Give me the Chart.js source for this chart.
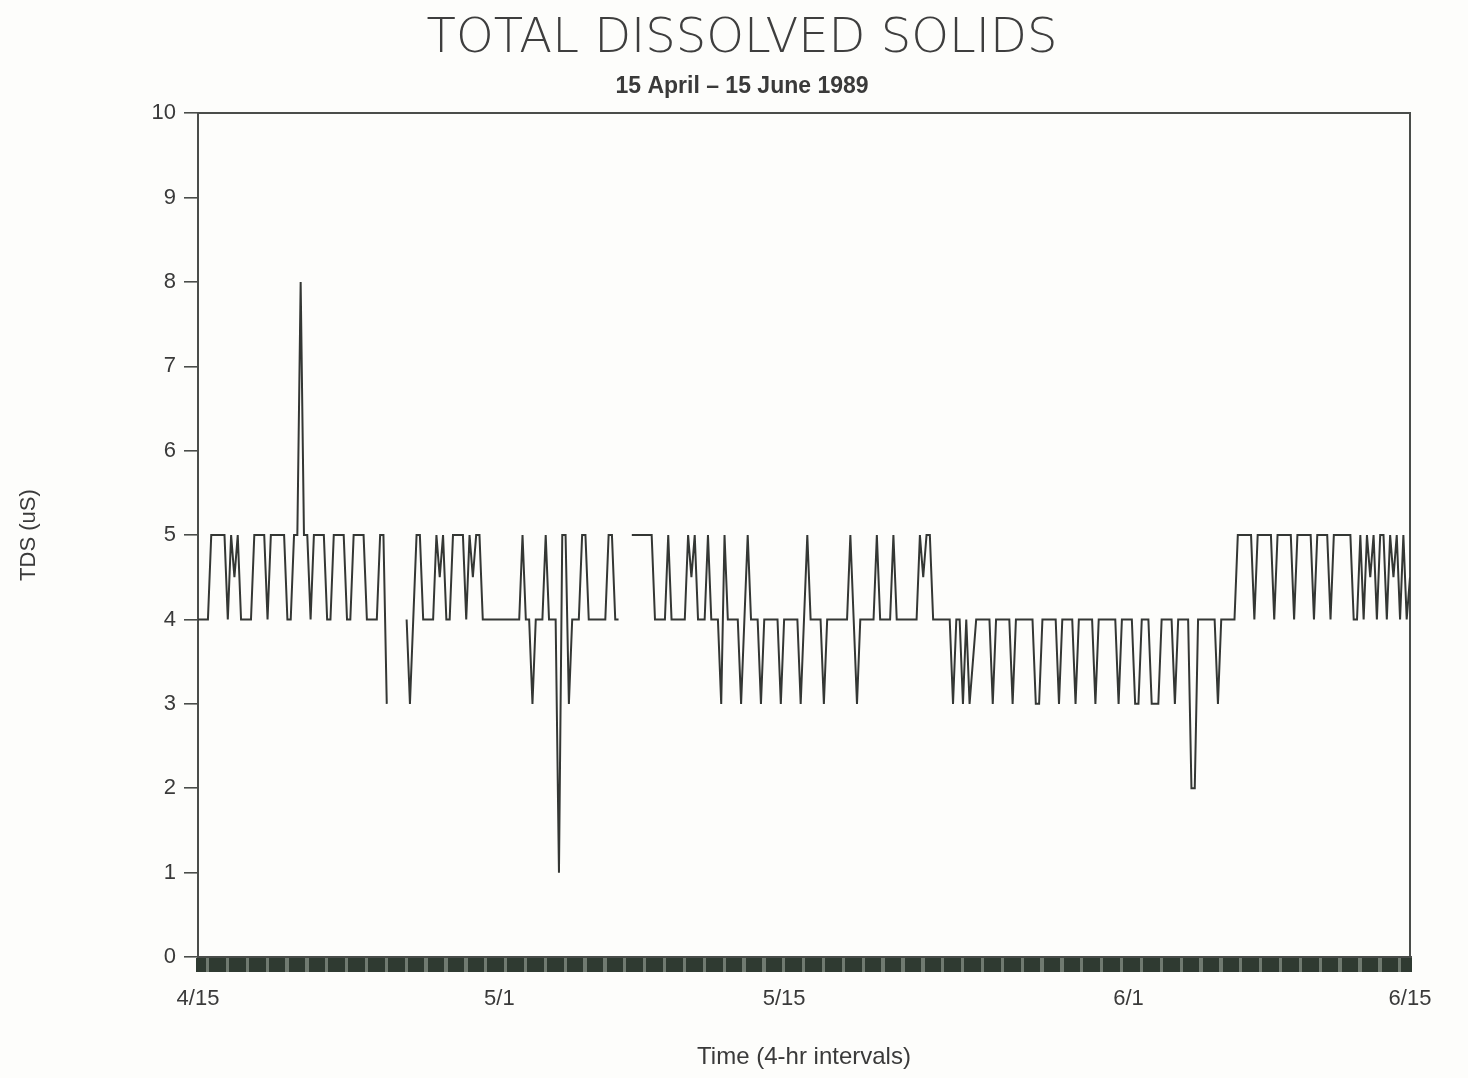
<!DOCTYPE html>
<html>
<head>
<meta charset="utf-8">
<title>Total Dissolved Solids</title>
<script src="https://cdn.jsdelivr.net/npm/chart.js@4.4.0/dist/chart.umd.min.js"></script>
<style>
  html, body { margin: 0; padding: 0; background: #fdfdfb; }
  canvas { display: block; }
</style>
</head>
<body>
<canvas id="tds" width="1468" height="1078"></canvas>
<script>
// one reading per 4-hr interval, 4/15 -> 6/15 (null = no data)
const tds = [
  4,4,4,4,5,5,5,5,5,4,
  5,4.5,5,4,4,4,4,5,5,5,
  5,4,5,5,5,5,5,4,4,5,
  5,8,5,5,4,5,5,5,5,4,
  4,5,5,5,5,4,4,5,5,5,
  5,4,4,4,4,5,5,3,null,null,
  null,null,null,4,3,4,5,5,4,4,
  4,4,5,4.5,5,4,4,5,5,5,
  5,4,5,4.5,5,5,4,4,4,4,
  4,4,4,4,4,4,4,4,5,4,
  4,3,4,4,4,5,4,4,4,1,
  5,5,3,4,4,4,5,5,4,4,
  4,4,4,4,5,5,4,4,null,null,
  null,5,5,5,5,5,5,5,4,4,
  4,4,5,4,4,4,4,4,5,4.5,
  5,4,4,4,5,4,4,4,3,5,
  4,4,4,4,3,4,5,4,4,4,
  3,4,4,4,4,4,3,4,4,4,
  4,4,3,4,5,4,4,4,4,3,
  4,4,4,4,4,4,4,5,4,3,
  4,4,4,4,4,5,4,4,4,4,
  5,4,4,4,4,4,4,4,5,4.5,
  5,5,4,4,4,4,4,4,3,4,
  4,3,4,3,3.5,4,4,4,4,4,
  3,4,4,4,4,4,3,4,4,4,
  4,4,4,3,3,4,4,4,4,4,
  3,4,4,4,4,3,4,4,4,4,
  4,3,4,4,4,4,4,4,3,4,
  4,4,4,3,3,4,4,4,3,3,
  3,4,4,4,4,3,4,4,4,4,
  2,2,4,4,4,4,4,4,3,4,
  4,4,4,4,5,5,5,5,5,4,
  5,5,5,5,5,4,5,5,5,5,
  5,4,5,5,5,5,5,4,5,5,
  5,5,4,5,5,5,5,5,5,4,
  4,5,4,5,4.5,5,4,5,5,4,
  5,4.5,5,4,5,4,4.5
];

const tickIdx = [0, 91, 177, 281, 366];
const tickLabels = ['4/15', '5/1', '5/15', '6/1', '6/15'];

const ink = '#343734';
const axisInk = '#4a4d4a';
const textInk = '#3a3a3a';
const tickFont = { family: 'Liberation Sans', size: 22 };

const points = tds.map((v, i) => ({ x: i, y: v }));

new Chart(document.getElementById('tds'), {
  type: 'line',
  data: {
    datasets: [{
      data: points,
      borderColor: ink,
      borderWidth: 2,
      pointRadius: 0,
      tension: 0,
      spanGaps: false,
      xAxisID: 'x',
      yAxisID: 'y'
    }]
  },
  options: {
    responsive: false,
    animation: false,
    devicePixelRatio: 1,
    layout: { padding: { left: 16, right: 0, top: 0, bottom: 0 } },
    plugins: {
      legend: { display: false },
      tooltip: { enabled: false },
      title: {
        display: true,
        text: 'TOTAL DISSOLVED SOLIDS',
        color: '#3e3e3e',
        font: { family: 'DejaVu Sans', size: 48, weight: 200 },
        padding: { top: 11, bottom: 0 }
      },
      subtitle: {
        display: true,
        text: '15 April – 15 June 1989',
        color: textInk,
        font: { family: 'Liberation Sans', size: 23, weight: 'bold' },
        padding: { top: 4, bottom: 13 }
      }
    },
    scales: {
      x: {
        type: 'linear',
        position: 'bottom',
        min: 0,
        max: 366,
        afterFit: s => { s.height = 121; },
        ticks: {
          stepSize: 1,
          autoSkip: false,
          maxRotation: 0,
          padding: 14,
          color: textInk,
          font: tickFont,
          callback: v => {
            const k = tickIdx.indexOf(v);
            return k >= 0 ? tickLabels[k] : '';
          }
        },
        grid: {
          drawOnChartArea: false,
          tickLength: 15,
          lineWidth: 4,
          color: c => (c.tick && c.tick.value % 6 === 3) ? '#707a70' : '#2f3a31'
        },
        border: { display: true, color: axisInk, width: 2 },
        title: {
          display: true,
          text: 'Time (4-hr intervals)',
          color: textInk,
          font: { family: 'Liberation Sans', size: 24 },
          padding: { top: 0, bottom: 6 }
        }
      },
      xT: {
        type: 'linear',
        position: 'top',
        min: 0,
        max: 366,
        afterFit: s => { s.height = 0; },
        ticks: { display: false },
        grid: { display: false },
        border: { display: true, color: axisInk, width: 2 }
      },
      y: {
        position: 'left',
        min: 0,
        max: 10,
        afterFit: s => { s.width = 182; },
        ticks: {
          stepSize: 1,
          padding: 8,
          color: textInk,
          font: tickFont
        },
        grid: {
          drawOnChartArea: false,
          tickLength: 14,
          lineWidth: 1.6,
          color: axisInk
        },
        border: { display: true, color: axisInk, width: 2 },
        title: {
          display: true,
          text: 'TDS (uS)',
          color: textInk,
          font: { family: 'Liberation Sans', size: 22 },
          padding: { top: 0, bottom: 0 }
        }
      },
      yR: {
        position: 'right',
        min: 0,
        max: 10,
        afterFit: s => { s.width = 58; },
        ticks: { display: false },
        grid: { display: false },
        border: { display: true, color: axisInk, width: 2 }
      }
    }
  }
});
</script>
</body>
</html>
